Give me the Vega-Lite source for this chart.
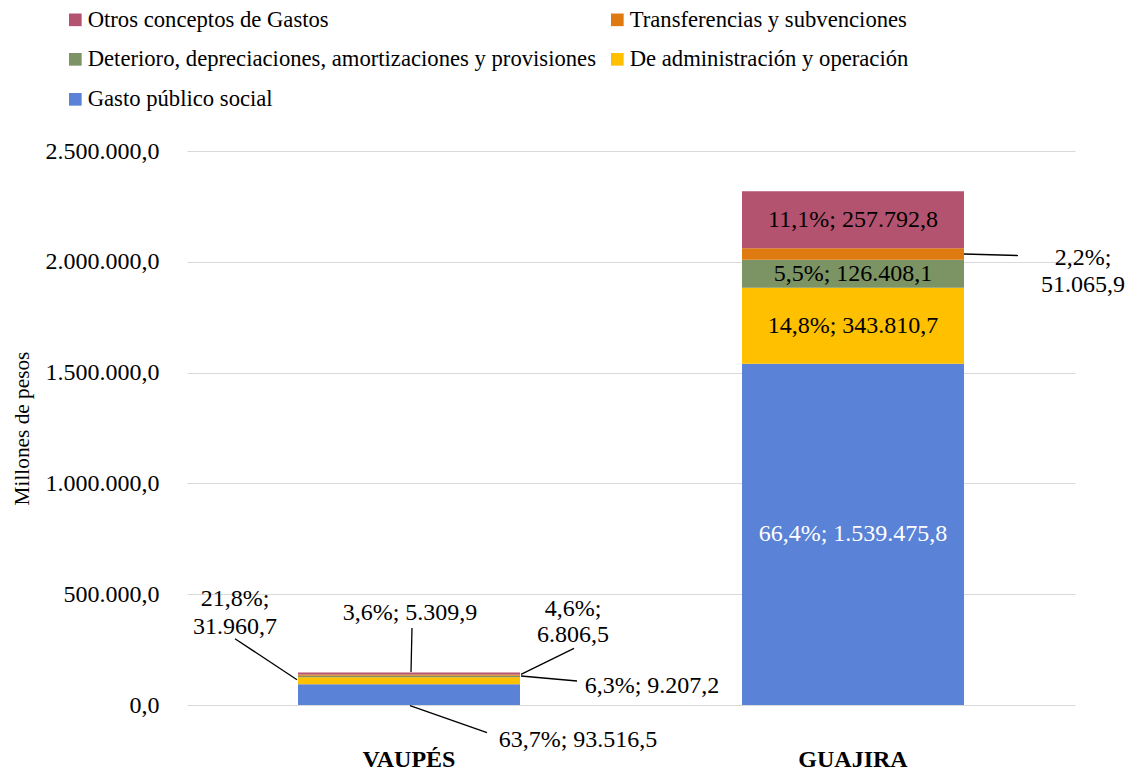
{
  "$schema": "https://vega.github.io/schema/vega-lite/v6.json",
  "autosize": {"type": "none"},
  "width": 888,
  "height": 554,
  "padding": {"left": 187, "top": 151, "right": 57, "bottom": 67},
  "background": "white",
  "config": {
    "view": {"stroke": null},
    "font": "Liberation Serif",
    "locale": {"number": {"decimal": ",", "thousands": ".", "grouping": [3], "currency": ["$", ""]}},
    "text": {"font": "Liberation Serif", "fontSize": 24, "color": "black"}
  },
  "data": {
    "values": [
      {"region": "VAUPÉS", "concepto": "Gasto público social", "orden": 1, "valor": 93516.5},
      {"region": "VAUPÉS", "concepto": "De administración y operación", "orden": 2, "valor": 31960.7},
      {"region": "VAUPÉS", "concepto": "Deterioro, depreciaciones, amortizaciones y provisiones", "orden": 3, "valor": 6806.5},
      {"region": "VAUPÉS", "concepto": "Transferencias y subvenciones", "orden": 4, "valor": 5309.9},
      {"region": "VAUPÉS", "concepto": "Otros conceptos de Gastos", "orden": 5, "valor": 9207.2},
      {"region": "GUAJIRA", "concepto": "Gasto público social", "orden": 1, "valor": 1539475.8},
      {"region": "GUAJIRA", "concepto": "De administración y operación", "orden": 2, "valor": 343810.7},
      {"region": "GUAJIRA", "concepto": "Deterioro, depreciaciones, amortizaciones y provisiones", "orden": 3, "valor": 126408.1},
      {"region": "GUAJIRA", "concepto": "Transferencias y subvenciones", "orden": 4, "valor": 51065.9},
      {"region": "GUAJIRA", "concepto": "Otros conceptos de Gastos", "orden": 5, "valor": 257792.8}
    ]
  },
  "transform": [
    {"joinaggregate": [{"op": "sum", "field": "valor", "as": "total"}], "groupby": ["region"]},
    {"stack": "valor", "groupby": ["region"], "sort": [{"field": "orden", "order": "ascending"}], "as": ["y0", "y1"]},
    {"calculate": "(datum.y0 + datum.y1) / 2", "as": "mid"},
    {"calculate": "datum.valor / datum.total", "as": "pct"},
    {"calculate": "format(datum.pct, '.1%') + '; ' + format(datum.valor, ',.1f')", "as": "etq"},
    {"calculate": "[format(datum.pct, '.1%') + ';', format(datum.valor, ',.1f')]", "as": "etq2"}
  ],
  "encoding": {
    "x": {
      "field": "region",
      "type": "nominal",
      "sort": ["VAUPÉS", "GUAJIRA"],
      "scale": {"paddingInner": 0.5, "paddingOuter": 0.25},
      "axis": {
        "title": null,
        "domain": false,
        "ticks": false,
        "labelAngle": 0,
        "labelFont": "Liberation Serif",
        "labelFontSize": 24,
        "labelFontWeight": "bold",
        "labelColor": "black",
        "labelPadding": 42
      }
    }
  },
  "layer": [
    {
      "mark": {"type": "bar"},
      "encoding": {
        "y": {
          "field": "y1",
          "type": "quantitative",
          "scale": {"domain": [0, 2500000], "nice": false},
          "axis": {
            "title": "Millones  de pesos",
            "titleFont": "Liberation Serif",
            "titleFontSize": 21.3,
            "titleFontWeight": "normal",
            "titleColor": "black",
            "titleX": -165,
            "titleY": 277,
            "titleAngle": -90,
            "titleAlign": "center",
            "titleBaseline": "middle",
            "values": [0, 500000, 1000000, 1500000, 2000000, 2500000],
            "format": ",.1f",
            "domain": false,
            "ticks": false,
            "labelFont": "Liberation Serif",
            "labelFontSize": 24,
            "labelColor": "black",
            "labelPadding": 28,
            "grid": true,
            "gridColor": "#D9D9D9",
            "gridWidth": 1
          }
        },
        "y2": {"field": "y0"},
        "color": {
          "field": "concepto",
          "type": "nominal",
          "scale": {
            "domain": ["Otros conceptos de Gastos", "Transferencias y subvenciones", "Deterioro, depreciaciones, amortizaciones y provisiones", "De administración y operación", "Gasto público social"],
            "range": ["#B4536F", "#DF7A10", "#7C9363", "#FFC000", "#5A82D7"]
          },
          "legend": {
            "title": null,
            "orient": "none",
            "legendX": -123,
            "legendY": -143,
            "direction": "horizontal",
            "columns": 2,
            "symbolType": "square",
            "symbolSize": 160,
            "symbolStrokeWidth": 0,
            "symbolOpacity": 1,
            "labelFont": "Liberation Serif",
            "labelFontSize": 22.67,
            "labelColor": "black",
            "labelOffset": 1,
            "labelLimit": 800,
            "rowPadding": 16,
            "columnPadding": 10
          }
        }
      }
    },
    {
      "transform": [{"filter": "datum.region === 'GUAJIRA' && datum.concepto !== 'Transferencias y subvenciones'"}],
      "mark": {"type": "text", "align": "center", "baseline": "middle"},
      "encoding": {
        "y": {"field": "mid", "type": "quantitative"},
        "text": {"field": "etq"},
        "color": {"condition": {"test": "datum.concepto === 'Gasto público social'", "value": "white"}, "value": "black"}
      }
    },
    {
      "transform": [{"filter": "datum.region === 'VAUPÉS' && datum.concepto === 'De administración y operación'"}],
      "mark": {"type": "text", "align": "center", "baseline": "middle", "dx": -174, "dy": -82, "lineHeight": 28},
      "encoding": {"y": {"field": "mid", "type": "quantitative"}, "text": {"field": "etq2"}}
    },
    {
      "transform": [{"filter": "datum.region === 'VAUPÉS' && datum.concepto === 'Transferencias y subvenciones'"}],
      "mark": {"type": "text", "align": "center", "baseline": "middle", "dx": 1, "dy": -62},
      "encoding": {"y": {"field": "mid", "type": "quantitative"}, "text": {"field": "etq"}}
    },
    {
      "transform": [{"filter": "datum.region === 'VAUPÉS' && datum.concepto === 'Deterioro, depreciaciones, amortizaciones y provisiones'"}],
      "mark": {"type": "text", "align": "center", "baseline": "middle", "dx": 164, "dy": -67, "lineHeight": 26},
      "encoding": {"y": {"field": "mid", "type": "quantitative"}, "text": {"field": "etq2"}}
    },
    {
      "transform": [{"filter": "datum.region === 'VAUPÉS' && datum.concepto === 'Otros conceptos de Gastos'"}],
      "mark": {"type": "text", "align": "center", "baseline": "middle", "dx": 243, "dy": 12.5},
      "encoding": {"y": {"field": "mid", "type": "quantitative"}, "text": {"field": "etq"}}
    },
    {
      "transform": [{"filter": "datum.region === 'VAUPÉS' && datum.concepto === 'Gasto público social'"}],
      "mark": {"type": "text", "align": "center", "baseline": "middle", "dx": 169, "dy": 45},
      "encoding": {"y": {"field": "mid", "type": "quantitative"}, "text": {"field": "etq"}}
    },
    {
      "transform": [{"filter": "datum.region === 'GUAJIRA' && datum.concepto === 'Transferencias y subvenciones'"}],
      "mark": {"type": "text", "align": "center", "baseline": "middle", "dx": 230, "dy": 4.5, "lineHeight": 27},
      "encoding": {"y": {"field": "mid", "type": "quantitative"}, "text": {"field": "etq2"}}
    },
    {
      "transform": [{"filter": "datum.region === 'VAUPÉS' && datum.concepto === 'De administración y operación'"}],
      "mark": {"type": "rule", "color": "black", "strokeWidth": 1.3, "xOffset": -112, "yOffset": -1, "x2Offset": -174, "y2Offset": -42},
      "encoding": {"y": {"field": "mid", "type": "quantitative"}, "y2": {"field": "mid"}, "x2": {"field": "region"}}
    },
    {
      "transform": [{"filter": "datum.region === 'VAUPÉS' && datum.concepto === 'Transferencias y subvenciones'"}],
      "mark": {"type": "rule", "color": "black", "strokeWidth": 1.3, "xOffset": 2, "yOffset": -3, "x2Offset": 3, "y2Offset": -47},
      "encoding": {"y": {"field": "mid", "type": "quantitative"}, "y2": {"field": "mid"}, "x2": {"field": "region"}}
    },
    {
      "transform": [{"filter": "datum.region === 'VAUPÉS' && datum.concepto === 'Deterioro, depreciaciones, amortizaciones y provisiones'"}],
      "mark": {"type": "rule", "color": "black", "strokeWidth": 1.3, "xOffset": 112, "yOffset": -2, "x2Offset": 165, "y2Offset": -28},
      "encoding": {"y": {"field": "mid", "type": "quantitative"}, "y2": {"field": "mid"}, "x2": {"field": "region"}}
    },
    {
      "transform": [{"filter": "datum.region === 'VAUPÉS' && datum.concepto === 'Otros conceptos de Gastos'"}],
      "mark": {"type": "rule", "color": "black", "strokeWidth": 1.3, "xOffset": 112, "yOffset": 2.5, "x2Offset": 168, "y2Offset": 7.5},
      "encoding": {"y": {"field": "mid", "type": "quantitative"}, "y2": {"field": "mid"}, "x2": {"field": "region"}}
    },
    {
      "transform": [{"filter": "datum.region === 'VAUPÉS' && datum.concepto === 'Gasto público social'"}],
      "mark": {"type": "rule", "color": "black", "strokeWidth": 1.3, "xOffset": 1, "yOffset": 11, "x2Offset": 78, "y2Offset": 38},
      "encoding": {"y": {"field": "mid", "type": "quantitative"}, "y2": {"field": "mid"}, "x2": {"field": "region"}}
    },
    {
      "transform": [{"filter": "datum.region === 'GUAJIRA' && datum.concepto === 'Transferencias y subvenciones'"}],
      "mark": {"type": "rule", "color": "black", "strokeWidth": 1.3, "xOffset": 111, "yOffset": 0, "x2Offset": 165, "y2Offset": 1.5},
      "encoding": {"y": {"field": "mid", "type": "quantitative"}, "y2": {"field": "mid"}, "x2": {"field": "region"}}
    }
  ]
}
